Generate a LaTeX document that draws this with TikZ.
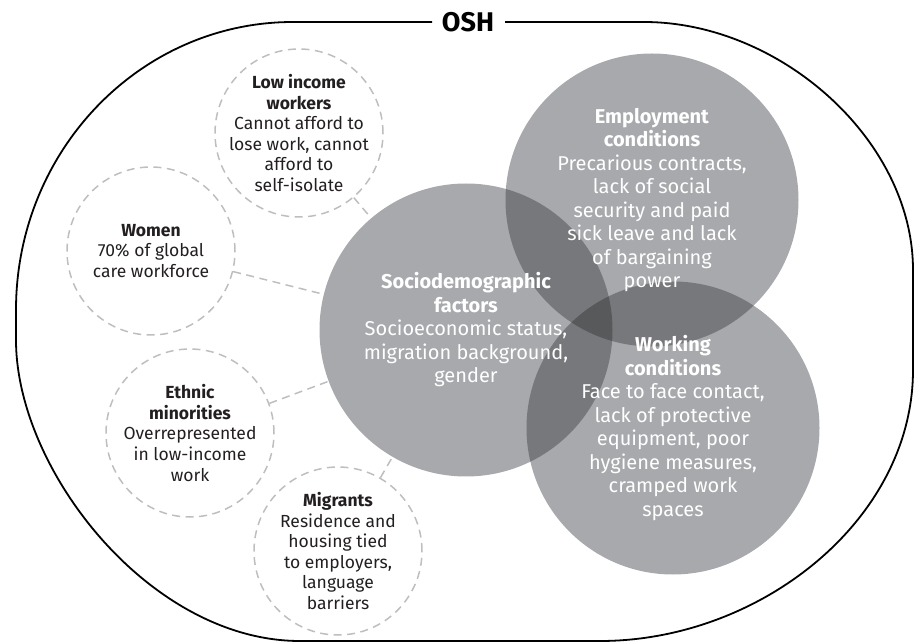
\documentclass[tikz,border=0pt]{standalone}
\usepackage{fontspec}
\setmainfont{Fira Sans}
\definecolor{gA}{HTML}{A7A9AC}
\definecolor{gB}{HTML}{77787B}
\definecolor{gC}{HTML}{58595B}
\definecolor{dgrey}{HTML}{BCBEC0}
\definecolor{txt}{HTML}{231F20}
\begin{document}
\begin{tikzpicture}[x=1pt,y=-1pt,
  outline/.style={draw=black, line width=1.8pt},
  dcirc/.style={circle, draw=dgrey, dash pattern=on 8pt off 5.5pt, line width=1.5pt, minimum size=168pt, inner sep=0pt},
  bigc/.style={circle, minimum size=293pt, inner sep=0pt},
  conn/.style={draw=dgrey, dash pattern=on 8pt off 5.5pt, line width=1.5pt},
  stxt/.style={align=center, text=txt, font=\fontsize{17.5}{20.6}\selectfont, inner sep=0pt},
  btxt/.style={align=center, text=white, font=\fontsize{20}{23.5}\selectfont, inner sep=0pt},
  ttl/.style={font=\fontsize{27}{30}\selectfont\bfseries, text=black, inner sep=0pt}
]
\useasboundingbox (0,0) rectangle (914,644);

% outer OSH outline
\draw[outline] (505,22) -- (644,22) .. controls (780,22) and (913,140) .. (913,270)
  -- (913,370) .. controls (913,520) and (760,641) .. (600,641)
  -- (300,641) .. controls (150,641) and (16,470) .. (16,340)
  -- (16,310) .. controls (16,151) and (140,22) .. (293,22) -- (432,22);
\node[ttl] (osh) at (468,22) {OSH};

% big circles
\coordinate (E) at (652,200);
\coordinate (S) at (466,330);
\coordinate (W) at (673,428);
\fill[gA] (E) circle (146.5pt);
\fill[gA] (S) circle (146.5pt);
\fill[gA] (W) circle (146.5pt);
\begin{scope}
  \clip (E) circle (146.5pt);
  \fill[gB] (S) circle (146.5pt);
  \fill[gB] (W) circle (146.5pt);
\end{scope}
\begin{scope}
  \clip (S) circle (146.5pt);
  \fill[gB] (W) circle (146.5pt);
\end{scope}
\begin{scope}
  \clip (E) circle (146.5pt);
  \clip (S) circle (146.5pt);
  \fill[gC] (W) circle (146.5pt);
\end{scope}
\node[bigc] (emp) at (E) {};
\node[bigc] (soc) at (S) {};
\node[bigc] (wrk) at (W) {};

\node[btxt] at (emp) {\textbf{Employment}\\\textbf{conditions}\\Precarious contracts,\\lack of social\\security and paid\\sick leave and lack\\of bargaining\\power};
\node[btxt] at (soc) {\textbf{Sociodemographic}\\\textbf{factors}\\Socioeconomic status,\\migration background,\\gender};
\node[btxt] at (wrk) {\textbf{Working}\\\textbf{conditions}\\Face to face contact,\\lack of protective\\equipment, poor\\hygiene measures,\\cramped work\\spaces};

% dashed circles
\node[dcirc] (low) at (299,133) {};
\node[dcirc] (wom) at (151,251) {};
\node[dcirc] (eth) at (190,433) {};
\node[dcirc] (mig) at (338,551) {};

\node[stxt] at (low) {\textbf{Low income}\\\textbf{workers}\\Cannot afford to\\lose work, cannot\\afford to\\self-isolate};
\node[stxt] at (wom) {\textbf{Women}\\70\% of global\\care workforce};
\node[stxt] at (eth) {\textbf{Ethnic}\\\textbf{minorities}\\Overrepresented\\in low-income\\work};
\node[stxt] at (mig) {\textbf{Migrants}\\Residence and\\housing tied\\to employers,\\language\\barriers};

% connectors
\draw[conn] (low) -- (soc);
\draw[conn] (wom) -- (soc);
\draw[conn] (eth) -- (soc);
\draw[conn] (mig) -- (soc);
\end{tikzpicture}
\end{document}
